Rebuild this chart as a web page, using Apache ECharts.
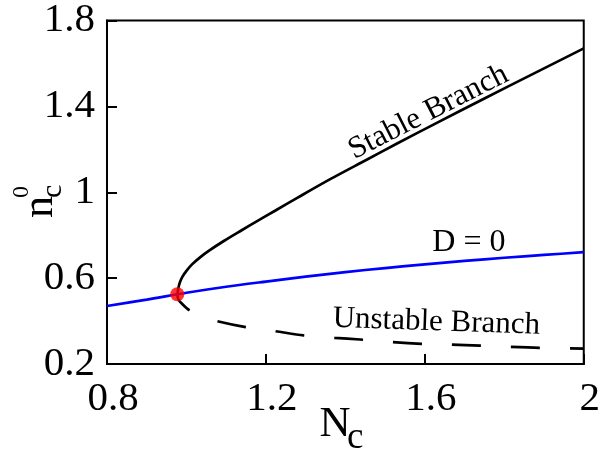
<!DOCTYPE html>
<html>
<head>
<meta charset="utf-8">
<script src="https://cdn.jsdelivr.net/npm/echarts@6.0.0/dist/echarts.min.js"></script>
<style>
  html, body { margin: 0; padding: 0; background: #fff; }
</style>
</head>
<body>
<div id="chart" style="width:603px;height:454px;"></div>
<script>
// N_c values along the stable (upper) branch, starting at the turning point
const stableN = [0.977, 0.979, 0.983, 0.990, 1.000, 1.014, 1.035, 1.056, 1.095, 1.139, 1.180, 1.223, 1.280, 1.363, 1.450, 1.529, 1.629, 1.750, 1.870, 2.000];
const stableNc0 = [0.520, 0.548, 0.578, 0.607, 0.634, 0.664, 0.698, 0.727, 0.774, 0.823, 0.868, 0.914, 0.975, 1.062, 1.148, 1.226, 1.322, 1.437, 1.549, 1.670];

// unstable (lower) branch, also from the turning point
const unstableN = [0.977, 0.980, 0.987, 1.007, 1.040, 1.076, 1.149, 1.223, 1.295, 1.373, 1.437, 1.517, 1.592, 1.665, 1.739, 1.810, 1.888, 2.000];
const unstableNc0 = [0.520, 0.500, 0.484, 0.451, 0.423, 0.400, 0.372, 0.353, 0.333, 0.322, 0.314, 0.302, 0.294, 0.290, 0.286, 0.280, 0.275, 0.272];

// D = 0 curve
const dZeroN = [0.8, 0.9, 1.0, 1.1, 1.2, 1.3, 1.4, 1.5, 1.6, 1.7, 1.8, 1.9, 2.0];
const dZeroNc0 = [0.470, 0.500, 0.532, 0.560, 0.584, 0.607, 0.628, 0.647, 0.664, 0.680, 0.695, 0.708, 0.721];

// turning point (red dot)
const turnPoint = [0.977, 0.525];

const xTicks = [0.8, 1.2, 1.6, 2.0];
const yTicks = [0.2, 0.6, 1.0, 1.4, 1.8];

const serif = "'Liberation Serif', 'DejaVu Serif', serif";

function pairs(xs, ys) {
  return xs.map((x, i) => [x, ys[i]]);
}

const chart = echarts.init(document.getElementById("chart"));

const option = {
  animation: false,
  grid: {
    left: 107,
    right: 14,
    top: 20,
    bottom: 90,
    show: true,
    borderColor: "#000",
    borderWidth: 2
  },
  xAxis: {
    type: "value",
    min: xTicks[0],
    max: xTicks[xTicks.length - 1],
    interval: 0.4,
    splitLine: { show: false },
    axisLine: { show: true, lineStyle: { color: "#000", width: 2 } },
    axisTick: { show: true, inside: true, length: 10, lineStyle: { color: "#000", width: 2 } },
    axisLabel: {
      color: "#000",
      fontFamily: serif,
      fontSize: 41,
      margin: 15,
      padding: [0, 0, 0, 12],
      formatter: v => String(+v.toFixed(1))
    }
  },
  yAxis: {
    type: "value",
    min: yTicks[0],
    max: yTicks[yTicks.length - 1],
    interval: 0.4,
    splitLine: { show: false },
    axisLine: { show: true, lineStyle: { color: "#000", width: 2 } },
    axisTick: { show: true, inside: true, length: 10, lineStyle: { color: "#000", width: 2 } },
    axisLabel: {
      color: "#000",
      fontFamily: serif,
      fontSize: 41,
      margin: 12,
      padding: [0, 0, 6, 0],
      formatter: v => String(+v.toFixed(1))
    }
  },
  series: [
    {
      name: "Stable Branch",
      type: "line",
      data: pairs(stableN, stableNc0),
      smooth: 0.3,
      showSymbol: false,
      lineStyle: { color: "#000", width: 2.7 }
    },
    {
      name: "Unstable Branch",
      type: "line",
      data: pairs(unstableN, unstableNc0),
      smooth: 0.3,
      showSymbol: false,
      lineStyle: { color: "#000", width: 2.7, type: [29, 30], dashOffset: 9 }
    },
    {
      name: "D = 0",
      type: "line",
      data: pairs(dZeroN, dZeroNc0),
      smooth: 0.3,
      showSymbol: false,
      lineStyle: { color: "#0000ff", width: 2.7 }
    },
    {
      name: "turning point",
      type: "scatter",
      data: [turnPoint],
      symbolSize: 14,
      itemStyle: { color: "#ff0000" },
      z: 5
    }
  ]
};

chart.setOption(option);

// annotations placed in data coordinates
function at(x, y) {
  return chart.convertToPixel({ gridIndex: 0 }, [x, y]);
}

function note(text, pos, deg, size) {
  const p = at(pos[0], pos[1]);
  return {
    type: "text",
    x: p[0],
    y: p[1],
    rotation: (deg * Math.PI) / 180,
    style: {
      text: text,
      fill: "#000",
      font: size + "px " + serif,
      textAlign: "center",
      textVerticalAlign: "middle"
    }
  };
}

// plain text piece for the axis names (pixel layout)
function piece(text, x, y, size, align, rot) {
  return {
    type: "text",
    x: x,
    y: y,
    rotation: rot || 0,
    style: {
      text: text,
      fill: "#000",
      font: size + "px " + serif,
      textAlign: align,
      textVerticalAlign: "middle"
    }
  };
}

chart.setOption({
  graphic: [
    note("Stable Branch", [1.609, 1.372], 27, 31),
    note("D = 0", [1.711, 0.767], 0, 32),
    note("Unstable Branch", [1.629, 0.395], -2, 31),
    // x axis name N_c
    piece("N", 335, 425, 43, "center"),
    piece("c", 347, 438, 37, "left"),
    // y axis name n_c^0, reading upwards
    piece("n", 40, 207, 44, "center", Math.PI / 2),
    piece("c", 53, 198, 30, "left", Math.PI / 2),
    piece("0", 22, 198, 24, "left", Math.PI / 2)
  ]
});

window.addEventListener("resize", () => chart.resize(), false);
</script>
</body>
</html>
